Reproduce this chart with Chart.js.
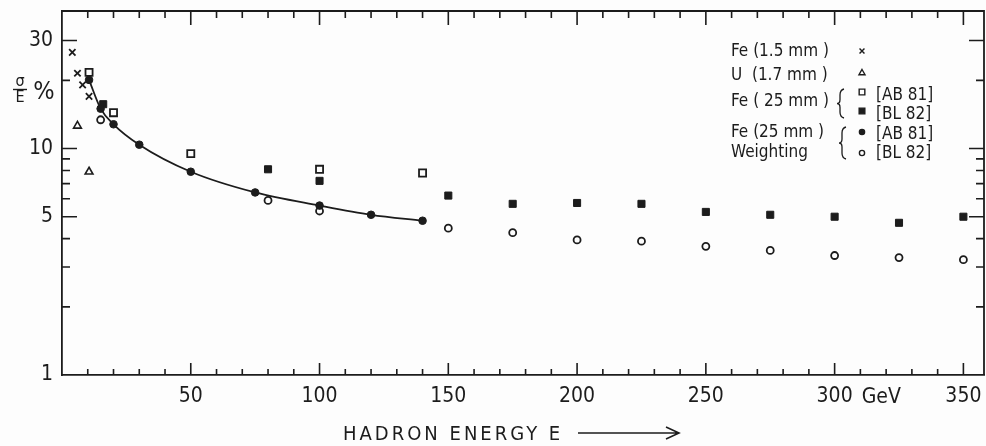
<!DOCTYPE html>
<html>
<head>
<meta charset="utf-8">
<script src="https://cdn.jsdelivr.net/npm/chart.js@4/dist/chart.umd.min.js"></script>
<style>
  html, body { margin: 0; padding: 0; background: #fdfdfd; }
  canvas { display: block; }
</style>
</head>
<body>
<canvas id="myChart" width="986" height="446"></canvas>
<script>
// hadron energy E (GeV) and resolution sigma/E (%)
var fe15Energy = [4, 6, 8, 10.5];
var fe15Res = [26.6, 21.5, 19.1, 17.0];

var u17Energy = [6, 10.5];
var u17Res = [12.6, 7.9];

var fe25Ab81Energy = [10.5, 20, 50, 100, 140];
var fe25Ab81Res = [21.7, 14.4, 9.5, 8.1, 7.8];

var fe25Bl82Energy = [16, 80, 100, 150, 175, 200, 225, 250, 275, 300, 325, 350];
var fe25Bl82Res = [15.7, 8.1, 7.2, 6.2, 5.7, 5.75, 5.7, 5.25, 5.1, 5.0, 4.7, 5.0];

var weightAb81Energy = [10.5, 15, 20, 30, 50, 75, 100, 120, 140];
var weightAb81Res = [20.1, 15.0, 12.8, 10.4, 7.9, 6.4, 5.6, 5.1, 4.8];

var weightBl82Energy = [15, 80, 100, 150, 175, 200, 225, 250, 275, 300, 325, 350];
var weightBl82Res = [13.4, 5.9, 5.3, 4.45, 4.25, 3.95, 3.9, 3.7, 3.55, 3.37, 3.3, 3.23];

var xTickValues = [50, 100, 150, 200, 250, 300, 350];
var yTickValues = [1, 5, 10, 30];
var yMinorValues = [2, 3, 4, 6, 7, 8, 9, 20];

var INK = '#1c1c1c';
var FONT = '"DejaVu Sans Condensed", "DejaVu Sans", sans-serif';

function toPoints(xs, ys){
  return xs.map((x, i) => ({x: x, y: ys[i]}));
}

// frame, inward ticks, axis titles and the hand-set key
var paperPlugin = {
  id: 'paper',
  afterDraw: function(chart){
    var ctx = chart.ctx;
    var a = chart.chartArea;
    var xs = chart.scales.x, ys = chart.scales.y;
    ctx.save();
    ctx.strokeStyle = INK;
    ctx.fillStyle = INK;
    ctx.lineWidth = 1.8;
    ctx.beginPath();
    ctx.moveTo(a.left, a.top);
    ctx.lineTo(a.right, a.top);
    ctx.lineTo(a.right, a.bottom);
    ctx.stroke();

    ctx.lineWidth = 1.6;
    ctx.beginPath();
    for (var v = 10; v <= 350; v += 10) {
      var px = xs.getPixelForValue(v);
      var major = v % 50 === 0;
      ctx.moveTo(px, a.bottom);
      ctx.lineTo(px, a.bottom - (major ? 12 : 6));
      ctx.moveTo(px, a.top);
      ctx.lineTo(px, a.top + (major ? 14 : 7));
    }
    yTickValues.concat(yMinorValues).forEach(function(t){
      if (t === 1) return;
      var py = ys.getPixelForValue(t);
      var len = yTickValues.indexOf(t) >= 0 ? 15 : 8;
      ctx.moveTo(a.left, py);
      ctx.lineTo(a.left + len, py);
      ctx.moveTo(a.right, py);
      ctx.lineTo(a.right - len, py);
    });
    ctx.stroke();

    // unit next to the 300 label
    ctx.font = '21px ' + FONT;
    ctx.textAlign = 'left';
    ctx.textBaseline = 'alphabetic';
    ctx.fillText('GeV', xs.getPixelForValue(300) + 27, 403);

    // x title with arrow
    ctx.font = '20px ' + FONT;
    ctx.letterSpacing = '3px';
    ctx.fillText('HADRON ENERGY E', 343, 440);
    ctx.letterSpacing = '0px';
    ctx.lineWidth = 1.6;
    ctx.beginPath();
    ctx.moveTo(578, 433);
    ctx.lineTo(678, 433);
    ctx.moveTo(666, 427);
    ctx.lineTo(679, 433);
    ctx.lineTo(666, 439);
    ctx.stroke();

    // y title: sigma over E, percent
    ctx.textAlign = 'center';
    ctx.font = '16px ' + FONT;
    ctx.fillText('σ', 20, 86);
    ctx.fillText('E', 20, 102);
    ctx.lineWidth = 1.4;
    ctx.beginPath();
    ctx.moveTo(13, 89.5);
    ctx.lineTo(27, 89.5);
    ctx.stroke();
    ctx.font = '25px ' + FONT;
    ctx.fillText('%', 44, 99);

    // key
    ctx.textAlign = 'left';
    ctx.font = '17px ' + FONT;
    ctx.fillText('Fe (1.5 mm )', 731, 56);
    ctx.fillText('U  (1.7 mm )', 731, 80);
    ctx.fillText('Fe ( 25 mm )', 731, 106);
    ctx.fillText('Fe (25 mm )', 731, 137);
    ctx.fillText('Weighting', 731, 157);
    ctx.fillText('[AB 81]', 876, 100);
    ctx.fillText('[BL 82]', 876, 119);
    ctx.fillText('[AB 81]', 876, 139);
    ctx.fillText('[BL 82]', 876, 158);

    var keyMarks = [
      {style: 'crossRot', y: 51, fill: false, r: 3.5},
      {style: 'triangle', y: 73, fill: false, r: 3.5},
      {style: 'rect', y: 92, fill: false, r: 4},
      {style: 'rect', y: 111, fill: true, r: 4},
      {style: 'circle', y: 132, fill: true, r: 2.6},
      {style: 'circle', y: 153, fill: false, r: 2.6}
    ];
    keyMarks.forEach(function(m){
      ctx.fillStyle = m.fill ? INK : '#fdfdfd';
      ctx.strokeStyle = INK;
      ctx.lineWidth = 1.4;
      Chart.helpers.drawPoint(ctx, {pointStyle: m.style, radius: m.r, borderWidth: 1.4, rotation: 0}, 862, m.y);
    });

    ctx.strokeStyle = INK;
    ctx.lineWidth = 1.3;
    drawBrace(ctx, 841, 89, 118);
    drawBrace(ctx, 843, 127, 159);
    ctx.restore();
  }
};

function drawBrace(ctx, x, y0, y1){
  var mid = (y0 + y1) / 2;
  ctx.beginPath();
  ctx.moveTo(x + 3, y0);
  ctx.quadraticCurveTo(x - 1, y0 + 1, x - 1, y0 + 6);
  ctx.lineTo(x - 1, mid - 4);
  ctx.quadraticCurveTo(x - 1, mid, x - 4, mid);
  ctx.quadraticCurveTo(x - 1, mid, x - 1, mid + 4);
  ctx.lineTo(x - 1, y1 - 6);
  ctx.quadraticCurveTo(x - 1, y1 - 1, x + 3, y1);
  ctx.stroke();
}

var ctx = document.getElementById('myChart').getContext('2d');
var myChart = new Chart(ctx, {
  type: 'scatter',
  data: {
    datasets: [
      {
        label: 'Fe (25 mm) weighting [AB 81]',
        data: toPoints(weightAb81Energy, weightAb81Res),
        showLine: true,
        cubicInterpolationMode: 'monotone',
        borderColor: INK,
        borderWidth: 1.8,
        pointStyle: 'circle',
        pointRadius: 3.8,
        pointBackgroundColor: INK,
        pointBorderColor: INK,
        pointBorderWidth: 1
      },
      {
        label: 'Fe (25 mm) weighting [BL 82]',
        data: toPoints(weightBl82Energy, weightBl82Res),
        pointStyle: 'circle',
        pointRadius: 3.5,
        pointBackgroundColor: '#fdfdfd',
        pointBorderColor: INK,
        pointBorderWidth: 1.8
      },
      {
        label: 'Fe (25 mm) [AB 81]',
        data: toPoints(fe25Ab81Energy, fe25Ab81Res),
        pointStyle: 'rect',
        pointRadius: 5,
        pointBackgroundColor: '#fdfdfd',
        pointBorderColor: INK,
        pointBorderWidth: 1.8
      },
      {
        label: 'Fe (25 mm) [BL 82]',
        data: toPoints(fe25Bl82Energy, fe25Bl82Res),
        pointStyle: 'rect',
        pointRadius: 5,
        pointBackgroundColor: INK,
        pointBorderColor: INK,
        pointBorderWidth: 1
      },
      {
        label: 'Fe (1.5 mm)',
        data: toPoints(fe15Energy, fe15Res),
        pointStyle: 'crossRot',
        pointRadius: 4.5,
        pointBorderColor: INK,
        pointBorderWidth: 1.8
      },
      {
        label: 'U (1.7 mm)',
        data: toPoints(u17Energy, u17Res),
        pointStyle: 'triangle',
        pointRadius: 4.5,
        pointBackgroundColor: '#fdfdfd',
        pointBorderColor: INK,
        pointBorderWidth: 1.6
      }
    ]
  },
  options: {
    responsive: false,
    animation: false,
    layout: { autoPadding: false, padding: { top: 11, right: 2, left: 0, bottom: 0 } },
    plugins: {
      legend: { display: false },
      tooltip: { enabled: false }
    },
    scales: {
      x: {
        type: 'linear',
        min: 0,
        max: 358,
        grid: { display: false, drawTicks: false },
        border: { display: true, color: INK, width: 1.8 },
        afterBuildTicks: function(scale){
          scale.ticks = xTickValues.map(v => ({value: v}));
        },
        afterFit: function(scale){
          scale.height = 71;
          scale.paddingLeft = 0;
          scale.paddingRight = 0;
        },
        ticks: {
          color: INK,
          padding: 9,
          maxRotation: 0,
          font: { family: FONT, size: 21 }
        }
      },
      y: {
        type: 'logarithmic',
        min: 1,
        max: 40.5,
        grid: { display: false, drawTicks: false },
        border: { display: true, color: INK, width: 1.8 },
        afterBuildTicks: function(scale){
          scale.ticks = yTickValues.map(v => ({value: v}));
        },
        afterFit: function(scale){
          scale.width = 62;
          scale.paddingTop = 0;
          scale.paddingBottom = 0;
        },
        ticks: {
          color: INK,
          padding: 9,
          font: { family: FONT, size: 21 },
          callback: function(value){ return String(value); }
        }
      }
    }
  },
  plugins: [paperPlugin]
});
</script>
</body>
</html>
